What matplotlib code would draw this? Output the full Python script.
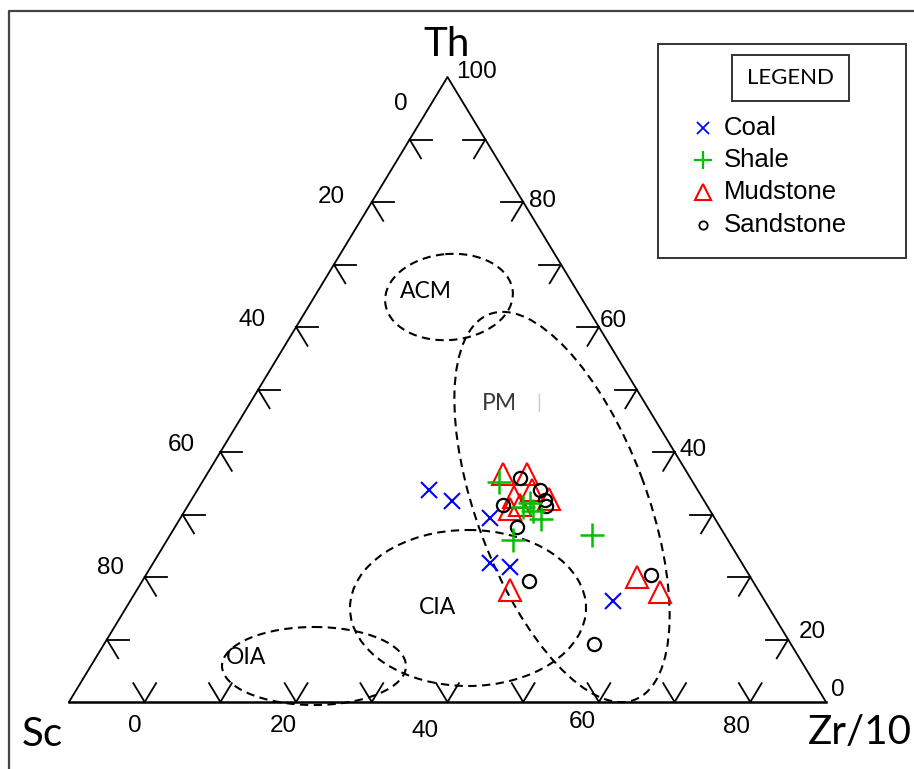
import matplotlib
matplotlib.use('Agg')
import matplotlib.pyplot as plt
from matplotlib.patches import Ellipse, Rectangle

# ---------------- data (percent: Sc, Th, Zr/10) ----------------
categories = ['Coal', 'Shale', 'Mudstone', 'Sandstone']

coal_sc = [35.5, 33.3, 29.7, 33.3, 30.9, 20.1]
coal_th = [33.9, 32.2, 29.4, 22.2, 21.6, 16.2]
coal_zr = [30.6, 34.5, 40.9, 44.5, 47.5, 63.7]

shale_sc = [25.6, 24.4, 23.2, 23.4, 23.0, 28.4, 17.6]
shale_th = [35.2, 31.2, 31.8, 30.6, 29.3, 25.9, 26.7]
shale_zr = [39.2, 44.4, 45.0, 46.0, 47.7, 45.7, 55.7]

mud_sc = [24.4, 21.3, 24.8, 24.7, 26.3, 20.4, 21.9, 32.8, 15.0, 13.0]
mud_th = [36.5, 36.5, 32.8, 31.5, 30.9, 32.5, 33.9, 17.9, 20.0, 17.3]
mud_zr = [39.1, 42.2, 42.4, 43.8, 42.8, 47.2, 44.2, 49.3, 65.0, 68.4]

sand_sc = [20.8, 21.0, 21.3, 26.9, 22.5, 26.8, 29.6, 26.0, 13.0]
sand_th = [33.9, 32.3, 31.4, 31.5, 35.8, 28.0, 19.4, 9.3, 20.3]
sand_zr = [45.3, 46.7, 47.3, 41.6, 41.7, 45.2, 51.1, 64.7, 66.9]

apex_labels = ['Th', 'Sc', 'Zr/10']
left_tick_labels = ['0', '20', '40', '60', '80']
right_tick_labels = ['100', '80', '60', '40', '20', '0']
bottom_tick_labels = ['0', '20', '40', '60', '80']
field_names = ['ACM', 'PM', 'CIA', 'OIA']

# ---------------- layout (pixel space) ----------------
FW, FH = 914, 769
X0, Y0 = 69.0, 702.0      # Sc corner
W, H = 757.0, 625.0       # triangle base width and height


def tern(sc, th, zr):
    xs, ys = [], []
    for a, b, c in zip(sc, th, zr):
        s = a + b + c
        t, z = b / s, c / s
        xs.append(X0 + W * (z + t / 2.0))
        ys.append(Y0 - H * t)
    return xs, ys


fig = plt.figure(figsize=(FW / 100, FH / 100), dpi=100)
ax = fig.add_axes([0, 0, 1, 1])
ax.set_xlim(0, FW)
ax.set_ylim(FH, 0)
ax.axis('off')

# outer frame (left + top)
ax.plot([9, 9, FW], [FH, 11, 11], color='#444444', lw=1.6, solid_capstyle='butt')

# triangle
A = (X0 + W / 2, Y0 - H)
B = (X0, Y0)
C = (X0 + W, Y0)
ax.plot([B[0], A[0], C[0]], [B[1], A[1], C[1]], color='black', lw=1.3)
ax.plot([B[0], C[0]], [B[1], C[1]], color='black', lw=1.8)

# ticks
L = ((W / 2) ** 2 + H ** 2) ** 0.5
ux, uy = (W / 2) / L, H / L
arm = 22
for k in range(1, 10):
    t = k / 10
    # left edge
    px, py = X0 + W * t / 2, Y0 - H * t
    ax.plot([px, px + arm], [py, py], color='black', lw=1.3)
    ax.plot([px, px + arm * ux], [py, py + arm * uy], color='black', lw=1.3)
    # right edge
    px, py = X0 + W - W * t / 2, Y0 - H * t
    ax.plot([px, px - arm], [py, py], color='black', lw=1.3)
    ax.plot([px, px - arm * ux], [py, py + arm * uy], color='black', lw=1.3)
    # bottom edge
    px, py = X0 + W * t, Y0
    ax.plot([px, px - arm * ux], [py, py - arm * uy], color='black', lw=1.3)
    ax.plot([px, px + arm * ux], [py, py - arm * uy], color='black', lw=1.3)

tick_font = dict(family='Liberation Sans', fontsize=17.5, color='black',
                 ha='center', va='center')
left_pos = [(401, 104), (331, 197), (252, 320), (181, 445), (110, 568)]
right_pos = [(477, 72), (542, 201), (613, 321), (693, 450), (812, 632), (838, 690)]
bottom_pos = [(135, 726), (283, 726), (425, 731), (582, 722), (737, 727)]
for lab, (x, y) in zip(left_tick_labels, left_pos):
    ax.text(x, y, lab, **tick_font)
for lab, (x, y) in zip(right_tick_labels, right_pos):
    ax.text(x, y, lab, **tick_font)
for lab, (x, y) in zip(bottom_tick_labels, bottom_pos):
    ax.text(x, y, lab, **tick_font)

apex_pos = [(447, 44), (42, 735), (860, 732)]
for lab, (x, y) in zip(apex_labels, apex_pos):
    ax.text(x, y, lab, family='Lato', fontsize=29, ha='center', va='center', color='black')

# tectonic fields
dash = (0, (4, 2.6))
fields = [((449, 297), 128, 86, -5),
          ((562, 507), 412, 170, 69.4),
          ((468, 608), 236, 156, 0),
          ((314, 666), 184, 78, 0)]
for (cx, cy), w, h, ang in fields:
    ax.add_patch(Ellipse((cx, cy), w, h, angle=ang, fill=False,
                         edgecolor='black', lw=1.5, linestyle=dash))

field_pos = [(426, 292), (499, 403), (438, 607), (246, 658)]
field_col = ['black', '#3a3a3a', 'black', 'black']
for name, (x, y), col in zip(field_names, field_pos, field_col):
    ax.text(x, y, name, family='Lato', fontsize=16.5, ha='center', va='center', color=col)
ax.text(539, 403, '|', family='Lato', fontsize=14, ha='center', va='center', color='#c8c8c8')

# data points
styles = {
    'Coal': dict(marker='x', color='#0000ff', ms=11, mew=1.5, mfc='none'),
    'Shale': dict(marker='+', color='#00c000', ms=17, mew=1.8, mfc='none'),
    'Mudstone': dict(marker='^', color='#ff0000', ms=15.5, mew=1.5, mfc='none'),
    'Sandstone': dict(marker='o', color='black', ms=9.5, mew=1.6, mfc='none'),
}
series = {
    'Mudstone': tern(mud_sc, mud_th, mud_zr),
    'Sandstone': tern(sand_sc, sand_th, sand_zr),
    'Shale': tern(shale_sc, shale_th, shale_zr),
    'Coal': tern(coal_sc, coal_th, coal_zr),
}
for name in ['Mudstone', 'Sandstone', 'Shale', 'Coal']:
    xs, ys = series[name]
    ax.plot(xs, ys, ls='none', **styles[name])

# legend
ax.add_patch(Rectangle((658, 44), 248, 214, fill=False, edgecolor='#333333', lw=1.4))
ax.add_patch(Rectangle((732, 55), 117, 46, fill=False, edgecolor='#333333', lw=1.4))
ax.text(790.5, 78, 'LEGEND', family='Lato', fontsize=16, ha='center', va='center')
leg_styles = {
    'Coal': dict(ms=8, mew=1.3),
    'Shale': dict(ms=13, mew=1.6),
    'Mudstone': dict(ms=12, mew=1.5),
    'Sandstone': dict(ms=6, mew=1.3),
}
leg_y = [128, 160, 192, 225]
for name, y in zip(categories, leg_y):
    st = dict(styles[name])
    st.update(leg_styles[name])
    ax.plot([703], [y], ls='none', **st)
    ax.text(724, y, name, family='Liberation Sans', fontsize=18.5, ha='left', va='center')

fig.savefig('out.png', dpi=100)
